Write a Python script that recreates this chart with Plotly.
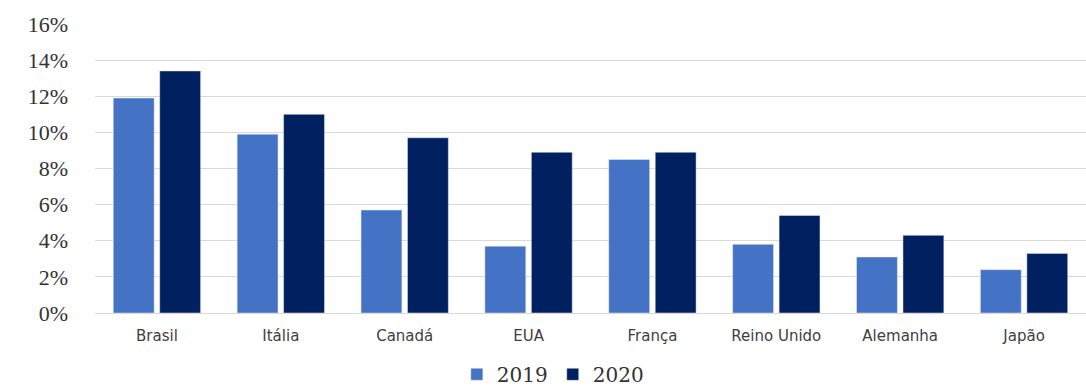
import plotly.graph_objects as go

categories = ["Brasil", "Itália", "Canadá", "EUA", "França", "Reino Unido", "Alemanha", "Japão"]
values_2019 = [11.9, 9.9, 5.7, 3.7, 8.5, 3.8, 3.1, 2.4]
values_2020 = [13.4, 11.0, 9.7, 8.9, 8.9, 5.4, 4.3, 3.3]
y_ticks = [0, 2, 4, 6, 8, 10, 12, 14, 16]
y_tick_labels = [f"{v}%" for v in y_ticks]

fig = go.Figure()
fig.add_trace(go.Bar(name="2019", x=categories, y=values_2019, marker_color="#4472C4"))
fig.add_trace(go.Bar(name="2020", x=categories, y=values_2020, marker_color="#002060"))

fig.update_layout(
    width=1086, height=387,
    margin=dict(l=95, r=0, t=24, b=74, autoexpand=False),
    paper_bgcolor="white", plot_bgcolor="white",
    barmode="group", bargap=0.25, bargroupgap=0.12,
    showlegend=True,
    legend=dict(orientation="h", x=0.462, xanchor="center", y=-0.212, yanchor="middle",
                font=dict(family="DejaVu Serif", size=20, color="#333333"),
                itemwidth=30, tracegroupgap=0),
)
fig.update_yaxes(range=[0, 16], tickvals=y_ticks, ticktext=y_tick_labels,
                 showgrid=True, gridcolor="#D9D9D9", gridwidth=1, zeroline=True,
                 zerolinecolor="#D9D9D9", zerolinewidth=1, automargin=False,
                 tickfont=dict(family="Liberation Serif", size=22, color="#333333"),
                 ticklabelstandoff=26, fixedrange=True)
fig.update_xaxes(tickfont=dict(family="DejaVu Sans", size=15, color="#404040"),
                 ticklabelstandoff=12, showline=False, automargin=False, fixedrange=True)

fig.write_html("out.html")
